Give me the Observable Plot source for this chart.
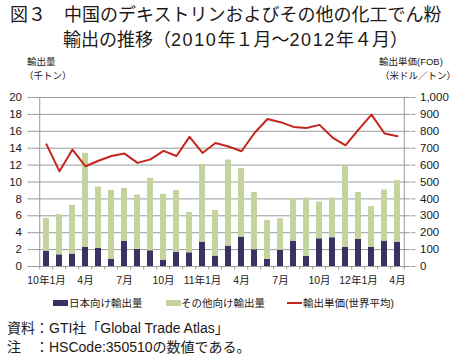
<!DOCTYPE html>
<html><head><meta charset="utf-8">
<script src="https://cdn.jsdelivr.net/npm/d3@7"></script>
<script src="https://cdn.jsdelivr.net/npm/@observablehq/plot@0.6"></script>
<style>
html,body{margin:0;padding:0;background:#fff;}
body{width:455px;height:361px;overflow:hidden;font-family:"Liberation Sans","Noto Sans CJK JP",sans-serif;color:#231815;}
#wrap{position:relative;width:455px;height:361px;}
.abs{position:absolute;white-space:nowrap;line-height:1;}
.t{font-size:18px;font-weight:400;}
.d{letter-spacing:1.6px;}
.u{font-size:9.5px;}
.lg{font-size:10.5px;}
.cap{font-size:14px;}
#chart{position:absolute;left:0;top:85px;}
.sw{position:absolute;}
</style></head>
<body><div id="wrap">
<div class="abs t" style="left:10px;top:6px;">図３　中国のデキストリンおよびその他の化工でん粉</div>
<div class="abs t" style="left:63px;top:31px;">輸出の推移（<span class="d">2010</span>年１月～<span class="d">2012</span>年４月）</div>
<div class="abs u" style="left:27px;top:57px;">輸出量</div>
<div class="abs u" style="left:24px;top:71px;">（千トン）</div>
<div class="abs u" style="left:379px;top:57px;">輸出単価(FOB)</div>
<div class="abs u" style="left:380px;top:71px;">（米ドル／トン）</div>
<div id="chart"></div>
<div class="sw" style="left:53px;top:300px;width:15px;height:6px;background:#3a3263;"></div>
<div class="abs lg" style="left:69px;top:298px;">日本向け輸出量</div>
<div class="sw" style="left:166px;top:300px;width:15px;height:6px;background:#c4d49e;"></div>
<div class="abs lg" style="left:181px;top:298px;">その他向け輸出量</div>
<div class="sw" style="left:287px;top:302px;width:15px;height:2px;background:#c4261d;"></div>
<div class="abs lg" style="left:303px;top:298px;">輸出単価(世界平均)</div>
<div class="abs cap" style="left:7px;top:321px;">資料：GTI社「Global Trade Atlas」</div>
<div class="abs cap" style="left:7px;top:340px;">注　：HSCode:350510の数値である。</div>
</div>
<script>
const months = ["2010-01","2010-02","2010-03","2010-04","2010-05","2010-06","2010-07","2010-08","2010-09","2010-10","2010-11","2010-12",
  "2011-01","2011-02","2011-03","2011-04","2011-05","2011-06","2011-07","2011-08","2011-09","2011-10","2011-11","2011-12",
  "2012-01","2012-02","2012-03","2012-04"];
const japan = [1.82,1.38,1.46,2.29,2.13,0.87,3.00,2.02,1.86,0.75,1.70,1.62,2.89,1.23,2.41,3.48,1.98,0.83,1.90,3.00,1.19,3.28,3.40,2.29,3.20,2.25,3.00,2.89];
const other = [3.87,4.75,5.77,11.11,7.28,8.14,6.25,6.44,8.57,7.79,7.31,4.78,9.20,5.41,10.19,8.10,6.79,4.62,3.75,5.02,6.91,4.35,4.70,9.61,5.57,4.83,6.05,7.27];
const price = [723,563,692,593,626,654,668,613,634,684,654,767,672,731,710,682,790,873,854,826,820,838,763,717,810,899,787,771];
const tickMonths = ["2010-01","2010-04","2010-07","2010-10","2011-01","2011-04","2011-07","2011-10","2012-01","2012-04"];
const tickLabels = ["10年1月","4月","7月","10月","11年1月","4月","7月","10月","12年1月","4月"];
const seriesNames = ["日本向け輸出量","その他向け輸出量"];

const rows = [];
months.forEach((m,i)=>rows.push({month:m, series:seriesNames[0], value:japan[i]}));
months.forEach((m,i)=>rows.push({month:m, series:seriesNames[1], value:other[i]}));
const priceRows = months.map((m,i)=>({month:m, v:price[i]/50}));

const W = 455, mL = 31.5, mR = 44.5;
const step = (W - mL - mR) / months.length;
const grey = "#9a9a9a";

const chart = Plot.plot({
  width: W, height: 206,
  marginLeft: mL, marginRight: mR, marginTop: 12, marginBottom: 25,
  style: {fontFamily: '"Liberation Sans","Noto Sans CJK JP",sans-serif', fontSize: "11px", color: "#231815", background: "transparent"},
  x: {domain: months, paddingInner: 0.56, paddingOuter: 0.28, label: null},
  y: {domain: [0, 20], label: null},
  color: {domain: seriesNames, range: ["#3a3263", "#c4d49e"]},
  marks: [
    Plot.gridY([0,2,4,6,8,10,12,14,16,18,20], {stroke: grey, strokeOpacity: 1, strokeWidth: 1}),
    Plot.barY(rows, {x: "month", y: "value", fill: "series"}),
    Plot.line(priceRows, {x: "month", y: "v", stroke: "#c4261d", strokeWidth: 2}),
    Plot.ruleX([months[0]], {dx: -step/2, y1: 0, y2: 20, stroke: grey}),
    Plot.ruleX([months[months.length-1]], {dx: step/2, y1: 0, y2: 20, stroke: grey}),
    Plot.ruleX(months, {dx: -step/2, y1: 0, y2: -0.4, stroke: grey}),
    Plot.ruleX([months[months.length-1]], {dx: step/2, y1: 0, y2: -0.4, stroke: grey}),
    Plot.axisY({anchor: "left", ticks: [0,2,4,6,8,10,12,14,16,18,20], tickSize: 4, tickPadding: 6, stroke: grey, fontSize: 11.5, label: null}),
    Plot.axisY({anchor: "right", ticks: [0,2,4,6,8,10,12,14,16,18,20], tickFormat: d => d3.format(",")(d*50), tickSize: 4, tickPadding: 5, stroke: grey, fontSize: 11.5, label: null}),
    Plot.axisX({ticks: tickMonths, tickFormat: d => tickLabels[tickMonths.indexOf(d)], tickSize: 0, tickPadding: 10, fontSize: 10.5, label: null})
  ]
});
document.getElementById("chart").appendChild(chart);
</script>
</body></html>
